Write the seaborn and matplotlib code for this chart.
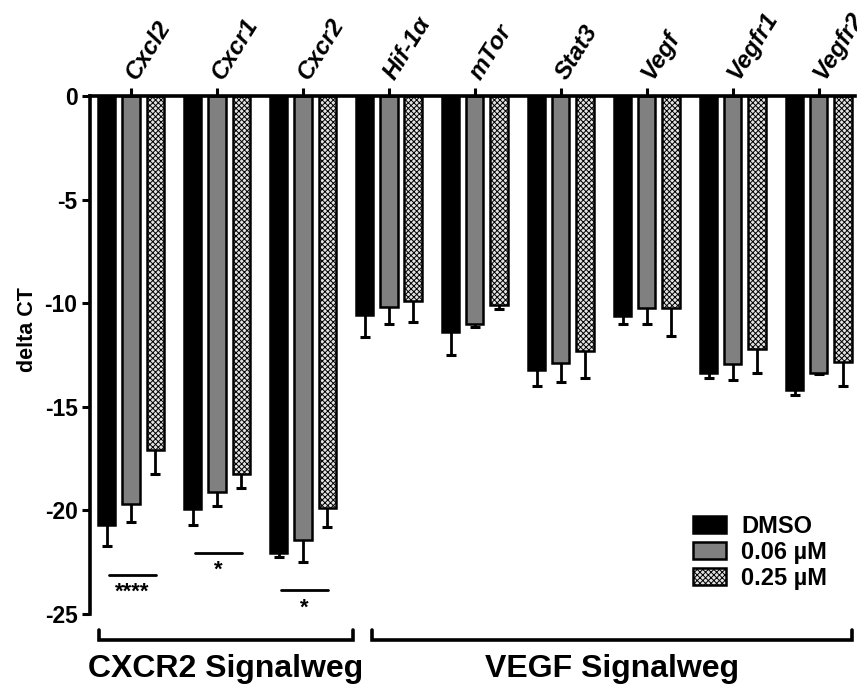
import matplotlib
matplotlib.use("Agg")
import matplotlib.pyplot as plt
import matplotlib.patches as mpatches
import seaborn as sns
import pandas as pd
import numpy as np

genes = ["Cxcl2", "Cxcr1", "Cxcr2", "Hif-1α", "mTor", "Stat3", "Vegf", "Vegfr1", "Vegfr2"]
treatments = ["DMSO", "0.06 µM", "0.25 µM"]
dmso = [-20.7, -19.95, -22.05, -10.55, -11.4, -13.2, -10.6, -13.35, -14.2]
dmso_err = [1.0, 0.75, 0.2, 1.1, 1.1, 0.8, 0.4, 0.25, 0.25]
low = [-19.7, -19.1, -21.45, -10.2, -11.0, -12.9, -10.25, -12.95, -13.35]
low_err = [0.85, 0.7, 1.05, 0.8, 0.15, 0.9, 0.75, 0.75, 0.08]
high = [-17.1, -18.25, -19.9, -9.9, -10.1, -12.3, -10.25, -12.2, -12.85]
high_err = [1.15, 0.65, 0.9, 1.0, 0.2, 1.3, 1.35, 1.15, 1.15]

sig_genes = ["Cxcl2", "Cxcr1", "Cxcr2"]
sig_labels = ["****", "*", "*"]
sig_line_y = [-23.1, -22.05, -23.85]
groups = ["CXCR2 Signalweg", "VEGF Signalweg"]

sns.set_style("white")
plt.rcParams["font.family"] = ["Liberation Sans", "DejaVu Sans"]
plt.rcParams["font.weight"] = "bold"
for k in ["text.color", "axes.labelcolor", "xtick.color", "ytick.color"]:
    plt.rcParams[k] = "black"
plt.rcParams["hatch.color"] = "#a8a8a8"
plt.rcParams["hatch.linewidth"] = 0.7

df = pd.DataFrame({
    "gene": genes * 3,
    "treatment": [t for t in treatments for _ in genes],
    "value": dmso + low + high,
})

fig = plt.figure(figsize=(8.57, 6.89), dpi=100)
ax = fig.add_axes([90 / 857, 1 - 614 / 689, (855 - 90) / 857, (614 - 96) / 689])

colors = ["#000000", "#808080", "#e2e2e2"]
sns.barplot(data=df, x="gene", y="value", hue="treatment", order=genes,
            hue_order=treatments, palette=colors, width=0.84, gap=0.29,
            errorbar=None, edgecolor="black", linewidth=1.8, ax=ax,
            legend=False, saturation=1)

for p in ax.containers[2].patches:
    p.set_hatch("xxxxxx")
    p.set_edgecolor("black")

errs = [dmso_err, low_err, high_err]
vals = [dmso, low, high]
for cont, v, e in zip(ax.containers, vals, errs):
    xs = [p.get_x() + p.get_width() / 2 for p in cont.patches]
    _, caps, _ = ax.errorbar(xs, v, yerr=[e, np.zeros(len(e))], fmt="none",
                             ecolor="black", elinewidth=2.0, capsize=3.4,
                             capthick=2.2, zorder=0.5)
    caps[1].set_visible(False)

ax.set_ylim(-25, 0)
ax.set_xlim(-0.477, 8.42)
ax.set_yticks([0, -5, -10, -15, -20, -25])
ax.set_yticklabels(["0", "-5", "-10", "-15", "-20", "-25"], fontsize=16.5, fontweight="bold")
ax.set_ylabel("delta CT", fontsize=15.5, fontweight="bold")
ax.yaxis.set_label_coords(-0.068, 0.55)
ax.set_xlabel("")

ax.xaxis.tick_top()
ax.set_xticks(range(len(genes)))
ax.set_xticklabels(genes, rotation=58, ha="left", va="center",
                   rotation_mode="anchor", fontsize=17.5, fontweight="bold",
                   fontstyle="italic")
ax.tick_params(axis="x", which="major", length=5.5, width=2.2, pad=8, direction="out")
ax.tick_params(axis="y", which="major", length=6, width=2.2, pad=3, direction="out", left=True)

for s in ["right", "bottom"]:
    ax.spines[s].set_visible(False)
for s in ["left", "top"]:
    ax.spines[s].set_linewidth(2.6)
    ax.spines[s].set_color("black")

# significance markers
for g, lab, ly in zip(sig_genes, sig_labels, sig_line_y):
    i = genes.index(g)
    ax.plot([i - 0.256, i + 0.29], [ly, ly], color="black", lw=2.0, clip_on=False)
    ax.text(i + 0.017, ly - 0.35, lab, ha="center", va="top", fontsize=16,
            fontweight="bold", clip_on=False)

# group brackets
brackets = [(-0.372, 2.58), (2.80, 8.38)]
for (x0, x1), name in zip(brackets, groups):
    ax.plot([x0, x0, x1, x1], [-25.75, -26.25, -26.25, -25.75], color="black",
            lw=2.6, clip_on=False, solid_joinstyle="miter")
    ax.text((x0 + x1) / 2, -27.65, name, ha="center", va="center", fontsize=23,
            fontweight="bold", clip_on=False)

handles = [mpatches.Patch(facecolor=colors[0], edgecolor="black", linewidth=1.8),
           mpatches.Patch(facecolor=colors[1], edgecolor="black", linewidth=1.8),
           mpatches.Patch(facecolor=colors[2], edgecolor="black", linewidth=1.8,
                          hatch="xxxxxx")]
leg = fig.legend(handles=handles, labels=treatments, loc="upper left",
                 bbox_to_anchor=(693 / 857, 1 - 515 / 689), frameon=False,
                 borderpad=0, borderaxespad=0, handlelength=1.4, handleheight=0.7,
                 handletextpad=0.65, labelspacing=0.12,
                 prop={"size": 17, "weight": "bold"})

fig.savefig("out.png", dpi=100)
